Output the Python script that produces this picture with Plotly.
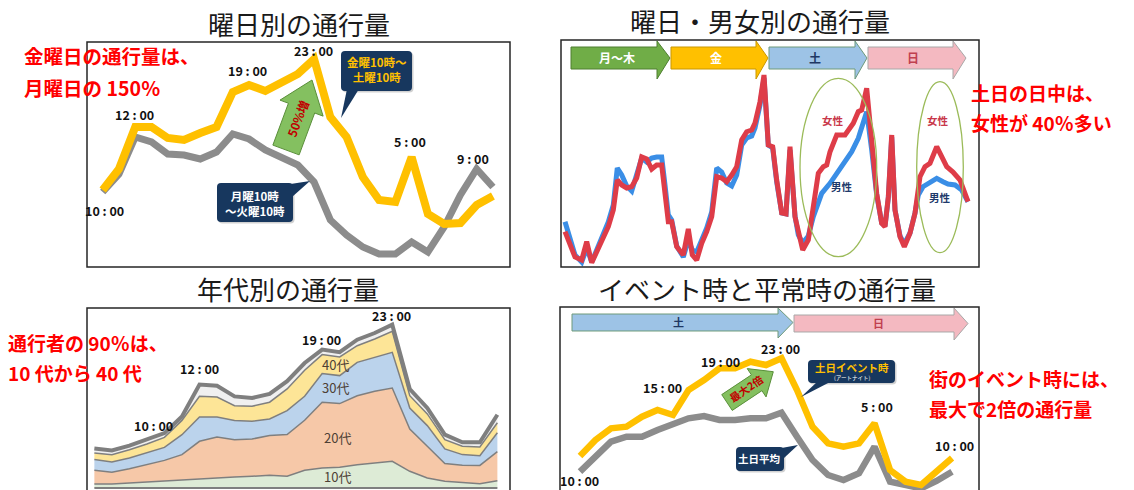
import plotly.graph_objects as go
import math

W, H = 1134, 490
def px(x): return x / W
def py(y): return 1 - y / H

# ---------------- data ----------------
# Panel 1: hourly traffic, 10:00 -> 10:00 next day
p1_hours = [10,11,12,13,14,15,16,17,18,19,20,21,22,23,0,1,2,3,4,5,6,7,8,9,10]
p1_fri = [77, 98, 140, 140, 129, 127, 134, 140, 175, 182, 176, 184, 193, 208,
          150, 130, 90, 67, 65, 110, 53, 43, 44, 62, 71]
p1_mon = [75, 93, 130, 125, 113, 112, 108, 115, 133, 128, 117, 110, 102, 85,
          47, 32, 20, 13, 13, 25, 15, 40, 72, 98, 80]

# Panel 2: week by gender (hours from start, traffic)
p2_female_h = [0.00,1.19,2.38,3.98,5.17,6.36,7.55,9.12,10.31,11.50,
               12.45,13.50,14.69,15.88,17.07,18.26,19.45,20.64,21.83,23.02,
               23.81,24.60,25.40,26.60,28.17,29.36,30.31,31.36,32.55,33.74,
               34.93,36.12,37.31,38.50,39.69,40.88,42.07,43.26,44.45,45.24,
               46.43,47.38,48.40,49.45,50.40,51.60,52.62,53.57,54.76,55.55,
               56.60,57.93,59.12,60.31,61.50,62.31,63.10,64.69,66.67,68.64,
               69.83,70.64,71.83,73.02,74.21,75.40,76.19,76.98,77.79,78.57,
               79.76,80.79,82.14,83.33,84.52,85.71,86.90,88.50,89.29,90.88,
               92.38,94.05,95.95]
p2_female_v = [35.3,24.0,10.0,7.0,25.3,4.3,15.3,30.3,40.3,57.0,
               87.0,82.0,79.0,80.3,89.0,110.0,108.0,98.0,102.0,102.0,
               74.0,45.3,45.3,20.3,12.0,38.0,12.0,7.0,23.7,35.3,
               50.3,90.3,89.0,85.3,92.0,100.3,127.0,135.3,137.0,144.0,
               165.3,192.0,122.0,120.3,87.0,54.0,53.0,120.3,50.3,33.7,
               17.0,27.0,57.0,93.7,100.3,102.0,115.3,132.0,132.0,143.7,
               155.3,157.0,178.7,120.3,73.7,43.7,40.3,70.3,132.0,57.0,
               30.3,20.3,33.7,53.7,90.3,100.3,103.7,120.3,113.7,100.3,
               95.0,87.0,65.3]
p2_male_h = [0.00,1.19,2.38,3.98,5.17,6.36,7.55,9.12,10.31,11.50,
             12.45,13.50,14.69,15.88,17.07,18.26,19.45,20.64,21.83,23.02,
             23.81,24.60,25.40,26.60,28.17,29.36,30.31,31.36,32.55,33.74,
             34.93,36.12,37.31,38.50,39.69,40.88,42.07,43.26,44.45,45.24,
             46.43,47.38,48.40,49.45,50.40,51.60,52.62,53.57,54.76,55.55,
             56.60,57.93,59.12,61.12,63.10,64.69,66.26,68.26,69.83,71.02,
             71.83,73.02,74.21,75.40,76.19,76.98,77.79,78.57,79.76,80.79,
             82.14,83.33,84.12,85.24,86.90,88.50,90.00,91.19,92.86,94.45,
             95.95]
p2_male_v = [45.3,29.0,12.0,5.0,19.0,5.0,17.0,35.0,45.0,62.0,
             99.0,92.0,81.0,76.0,91.0,109.0,105.0,109.0,110.0,110.0,
             82.0,52.0,47.0,21.0,10.0,27.0,17.0,15.0,27.0,39.0,
             55.0,99.0,95.0,84.0,81.0,92.0,122.0,129.0,131.0,139.0,
             162.0,189.0,122.0,119.0,85.0,54.0,53.0,117.0,51.0,32.0,
             24.0,31.0,50.3,73.7,83.7,93.7,103.7,115.3,128.7,143.7,
             155.3,117.0,72.0,44.0,41.0,69.0,130.0,57.0,31.0,23.0,
             34.0,54.0,72.0,80.3,85.3,88.7,85.3,83.0,82.0,77.0,
             65.3]

# Panel 3: by age group, hourly 6:00 -> 5:00 (stacked)
p3_hours = [6,7,8,9,10,11,12,13,14,15,16,17,18,19,20,21,22,23,0,1,2,3,4,5]
p3_10s = [4.0,4.0,5.0,6.0,7.3,8.3,9.7,10.7,11.0,11.7,12.7,11.7,17.7,20.0,20.7,23.3,25.0,26.7,16.7,10.0,6.7,5.7,4.3,7.3]
p3_20s = [13.7,11.7,14.3,17.3,20.3,25.0,37.0,40.3,37.3,37.3,39.7,41.7,50.0,65.7,63.7,69.0,71.7,73.3,42.3,31.7,17.7,17.0,18.3,29.0]
p3_30s = [10.7,10.3,10.7,11.7,13.0,20.0,24.3,20.0,19.3,17.7,16.7,24.0,24.0,28.7,28.0,33.3,34.0,35.7,21.0,20.7,14.7,10.7,9.7,19.0]
p3_40s = [6.7,7.3,8.3,9.0,10.0,14.3,20.7,20.0,14.7,15.0,16.7,21.7,26.0,19.0,18.7,16.7,18.3,21.0,12.3,11.7,9.3,8.3,8.7,10.0]
p3_50p = [4.3,4.3,4.0,4.3,4.3,4.0,11.7,11.3,9.3,8.3,8.3,7.7,7.3,5.0,4.7,6.0,6.0,6.7,6.7,6.0,5.0,4.0,4.7,8.0]

# Panel 4: event vs normal weekend, 10:00 -> 10:00
p4_hours = [10,11,12,13,14,15,16,17,18,19,20,21,22,23,0,1,2,3,4,5,6,7,8,9,10]
p4_event = [34,50,61.7,63.3,73.3,80,75,100,110,121.7,121.7,128.3,125,131.7,
            100,63.3,46.7,43.3,46.7,66.7,20,8.3,5,18,32]
p4_avg = [18.3,33.3,48.3,53.3,53.3,60,66.7,71.7,74,70,70,71.7,71.7,77.3,
          53.3,30,15,10,16.7,43.3,8.3,5,1.7,9,18.3]

# ---------------- figure ----------------
JP = "Noto Sans CJK JP"
YEL = "#FFC000"
GRY = "#8C8C8C"
NAVY = "#17375E"
fig = go.Figure()

i1 = list(range(len(p1_hours)))
fig.add_trace(go.Scatter(x=i1, y=p1_mon, mode="lines", line=dict(color=GRY, width=7),
                         xaxis="x", yaxis="y", hoverinfo="skip"))
fig.add_trace(go.Scatter(x=i1, y=p1_fri, mode="lines", line=dict(color=YEL, width=8),
                         xaxis="x", yaxis="y", hoverinfo="skip"))

fig.add_trace(go.Scatter(x=p2_male_h, y=p2_male_v, mode="lines", line=dict(color="#3A8EE6", width=5),
                         xaxis="x2", yaxis="y2", hoverinfo="skip"))
fig.add_trace(go.Scatter(x=p2_female_h, y=p2_female_v, mode="lines", line=dict(color="#DE3C48", width=5),
                         xaxis="x2", yaxis="y2", hoverinfo="skip"))

i3 = list(range(len(p3_hours)))
layers = [(p3_10s, "#DDEBD6", 1.5), (p3_20s, "#F6C8A8", 1.5), (p3_30s, "#BBD3EC", 1.5),
          (p3_40s, "#FDE597", 1.5), (p3_50p, "#F0F0F0", 4)]
for vals, col, lw in layers:
    fig.add_trace(go.Scatter(x=i3, y=vals, mode="lines", stackgroup="age", fillcolor=col,
                             line=dict(color="#7F7F7F", width=lw), xaxis="x3", yaxis="y3",
                             hoverinfo="skip"))
fig.add_trace(go.Scatter(x=i3, y=[0] * len(i3), mode="lines", line=dict(color="#7F7F7F", width=2),
                         xaxis="x3", yaxis="y3", hoverinfo="skip"))

i4 = list(range(len(p4_hours)))
fig.add_trace(go.Scatter(x=i4, y=p4_avg, mode="lines", line=dict(color=GRY, width=6.5),
                         xaxis="x4", yaxis="y4", hoverinfo="skip"))
fig.add_trace(go.Scatter(x=i4, y=p4_event, mode="lines", line=dict(color=YEL, width=6.5),
                         xaxis="x4", yaxis="y4", hoverinfo="skip"))

def ax(dom_x, dom_y, rx, ry, anchor):
    return (dict(domain=[px(dom_x[0]), px(dom_x[1])], range=rx, visible=False, anchor=anchor[1], fixedrange=True),
            dict(domain=[py(dom_y[1]), py(dom_y[0])], range=ry, visible=False, anchor=anchor[0], fixedrange=True))

xa1, ya1 = ax((87, 510), (42, 267), [-0.966, 25.05], [0, 225], ("x", "y"))
xa2, ya2 = ax((561, 979), (40, 267), [-0.952, 98.57], [0, 227], ("x2", "y2"))
xa3, ya3 = ax((87, 510), (308, 490), [-0.42, 23.72], [-2, 180], ("x3", "y3"))
xa4, ya4 = ax((560, 979), (307, 490), [-1.29, 25.74], [0, 183], ("x4", "y4"))

shapes = []
def poly(pts, fill, line="rgba(0,0,0,0)", lw=1, layer="above"):
    path = "M " + " L ".join(f"{px(x):.5f},{py(y):.5f}" for x, y in pts) + " Z"
    shapes.append(dict(type="path", path=path, xref="paper", yref="paper", fillcolor=fill,
                       line=dict(color=line, width=lw), layer=layer))

def frame(x0, y0, x1, y1):
    shapes.append(dict(type="rect", xref="paper", yref="paper", x0=px(x0), x1=px(x1), y0=py(y1), y1=py(y0),
                       line=dict(color="#262626", width=1.5), fillcolor="rgba(0,0,0,0)", layer="above"))

frame(87, 42, 510, 267)
frame(561, 40, 979, 267)
frame(87, 308, 510, 496)
frame(560, 307, 979, 496)

def banner(bx0, bx1, tip, by0, by1, hy0, hy1, fill, line):
    ym = (by0 + by1) / 2
    poly([(bx0, by0), (bx1, by0), (bx1, hy0), (tip, ym), (bx1, hy1), (bx1, by1), (bx0, by1)], fill, line, 1)

banner(571, 657, 670, 47, 69, 41, 79, "#70AD47", "#4E7F30")
banner(671, 756, 768, 47, 69, 41, 79, "#FFC000", "#C99700")
banner(769, 855, 867, 47, 69, 41, 79, "#9DC3E6", "#6E9A7A")
banner(868, 953, 966, 47, 69, 41, 79, "#F4B9C1", "#A8A8A8")
banner(572, 778, 793, 314, 331, 308, 338, "#9DC3E6", "#6E9A7A")
banner(794, 954, 968, 315, 332, 308, 340, "#F4B9C1", "#A8A8A8")

for (x0, x1, y0, y1) in [(800, 876.7, 78.3, 256.7), (916.7, 963.3, 81.7, 252.7)]:
    shapes.append(dict(type="circle", xref="paper", yref="paper", x0=px(x0), x1=px(x1), y0=py(y1), y1=py(y0),
                       line=dict(color="#9BBB59", width=1.3), layer="above"))

def rrect(x0, y0, x1, y1, r, fill):
    p = (f"M {px(x0+r)},{py(y0)} L {px(x1-r)},{py(y0)} Q {px(x1)},{py(y0)} {px(x1)},{py(y0+r)} "
         f"L {px(x1)},{py(y1-r)} Q {px(x1)},{py(y1)} {px(x1-r)},{py(y1)} "
         f"L {px(x0+r)},{py(y1)} Q {px(x0)},{py(y1)} {px(x0)},{py(y1-r)} "
         f"L {px(x0)},{py(y0+r)} Q {px(x0)},{py(y0)} {px(x0+r)},{py(y0)} Z")
    shapes.append(dict(type="path", path=p, xref="paper", yref="paper", fillcolor=fill,
                       line=dict(color="rgba(0,0,0,0)", width=0), layer="above"))

def callout(x0, y0, x1, y1, tail):
    rrect(x0 + 1.5, y0 + 1.5, x1 + 1.5, y1 + 1.5, 4, "rgba(0,0,0,0.18)")
    poly(tail, NAVY)
    rrect(x0, y0, x1, y1, 4, NAVY)

callout(341, 51, 412, 91, [(347, 89), (359, 89), (341, 118)])
callout(217, 183, 293, 222, [(284, 185), (292, 197), (310, 181)])
callout(808, 360, 895, 383, [(818, 381), (832, 381), (801, 397)])
callout(736, 447, 784, 471, [(776, 449), (784, 458), (798, 445)])

def arrow(T, Hd, sw, hw, hl, fill="#84C060", line="#5A8F3A"):
    dx, dy = Hd[0] - T[0], Hd[1] - T[1]
    L = math.hypot(dx, dy)
    d = (dx / L, dy / L)
    n = (-d[1], d[0])
    S = (Hd[0] - hl * d[0], Hd[1] - hl * d[1])
    pts = [(T[0] - sw * n[0], T[1] - sw * n[1]), (S[0] - sw * n[0], S[1] - sw * n[1]),
           (S[0] - hw * n[0], S[1] - hw * n[1]), Hd,
           (S[0] + hw * n[0], S[1] + hw * n[1]), (S[0] + sw * n[0], S[1] + sw * n[1]),
           (T[0] + sw * n[0], T[1] + sw * n[1])]
    poly(pts, fill, line, 1)

arrow((286, 150), (312, 80), 14, 23, 30)
arrow((727, 402.5), (773.3, 371.7), 9.5, 17, 20)

fig.update_layout(shapes=shapes)

anns = []
def ann(x, y, text, size, color="#000", bold=True, angle=0, xanchor="center", family=JP):
    t = f"<b>{text}</b>" if bold else text
    anns.append(dict(x=px(x), y=py(y), xref="paper", yref="paper", text=t, showarrow=False,
                     xanchor=xanchor, yanchor="middle", textangle=angle,
                     font=dict(size=size, color=color, family=family)))

# titles
ann(299, 23, "曜日別の通行量", 26, "#1a1a1a", bold=False)
ann(760, 20, "曜日・男女別の通行量", 26, "#1a1a1a", bold=False)
ann(288, 288, "年代別の通行量", 26, "#1a1a1a", bold=False)
ann(767, 288, "イベント時と平常時の通行量", 26, "#1a1a1a", bold=False)

# red messages
RED = "#FF0000"
ann(22, 55, "金曜日の通行量は、", 19.5, RED, xanchor="left")
ann(22, 88, "月曜日の 150％", 19.5, RED, xanchor="left")
ann(969, 92, "土日の日中は、", 19, RED, xanchor="left")
ann(969, 122, "女性が 40％多い", 19, RED, xanchor="left")
ann(6, 342, "通行者の 90％は、", 19, RED, xanchor="left")
ann(6, 372, "10 代から 40 代", 19, RED, xanchor="left")
ann(927, 378, "街のイベント時には、", 19, RED, xanchor="left")
ann(927, 408, "最大で2倍の通行量", 19, RED, xanchor="left")

# time labels
for (x, y, t) in [(104, 210, "10 : 00"), (134, 114, "12 : 00"), (247, 71, "19 : 00"), (313, 50, "23 : 00"),
                  (410, 142, "5 : 00"), (473, 158, "9 : 00"),
                  (153, 425, "10 : 00"), (199, 368, "12 : 00"), (321, 339, "19 : 00"), (391, 315, "23 : 00"),
                  (579, 480, "10 : 00"), (662, 387, "15 : 00"), (720, 361, "19 : 00"), (780, 348, "23 : 00"),
                  (877, 406, "5 : 00"), (954, 445, "10 : 00")]:
    ann(x, y, t, 12.5, "#111")

# callout texts
ann(377, 69, "金曜10時〜<br>土曜10時", 11.5, YEL)
ann(255, 203, "月曜10時<br>〜火曜10時", 11.5, "#FFFFFF")
ann(852, 367, "土日イベント時", 10.5, YEL)
ann(852, 377.5, "(アートナイト)", 5.5, "#FFFFFF", bold=False)
ann(759, 458, "土日平均", 10.5, "#FFFFFF")

# arrow texts
ann(297, 118, "50%増", 12, "#C00000", angle=-69)
ann(746, 388, "最大2倍", 10.5, "#C00000", angle=-34)

# banner texts
ann(617, 58, "月〜木", 12, "#FFFFFF")
ann(716, 58, "金", 12, "#FFFFFF")
ann(815, 58, "土", 12, "#1F3864")
ann(913, 58, "日", 12, "#C0404F")
ann(678, 322, "土", 11, "#1F3864")
ann(878, 323, "日", 11, "#C0404F")

# gender labels
ann(833, 120, "女性", 10.5, "#C8374A")
ann(842, 186, "男性", 10.5, "#1F3A6B")
ann(938, 121, "女性", 10.5, "#C8374A")
ann(940, 198, "男性", 10.5, "#1F3A6B")

# age labels
AGE = "#4d4035"
ann(335, 364, "40代", 13, AGE, bold=False)
ann(335, 387, "30代", 13, AGE, bold=False)
ann(337, 437, "20代", 13, AGE, bold=False)
ann(337, 476, "10代", 13, AGE, bold=False)

fig.update_layout(
    width=W, height=H, margin=dict(l=0, r=0, t=0, b=0),
    paper_bgcolor="white", plot_bgcolor="white", showlegend=False,
    xaxis=xa1, yaxis=ya1, xaxis2=xa2, yaxis2=ya2, xaxis3=xa3, yaxis3=ya3, xaxis4=xa4, yaxis4=ya4,
    annotations=anns,
)
fig.write_html("out.html", config={"displayModeBar": False, "staticPlot": True},
               post_script="document.body.style.margin='0px';document.body.style.overflow='hidden';")
